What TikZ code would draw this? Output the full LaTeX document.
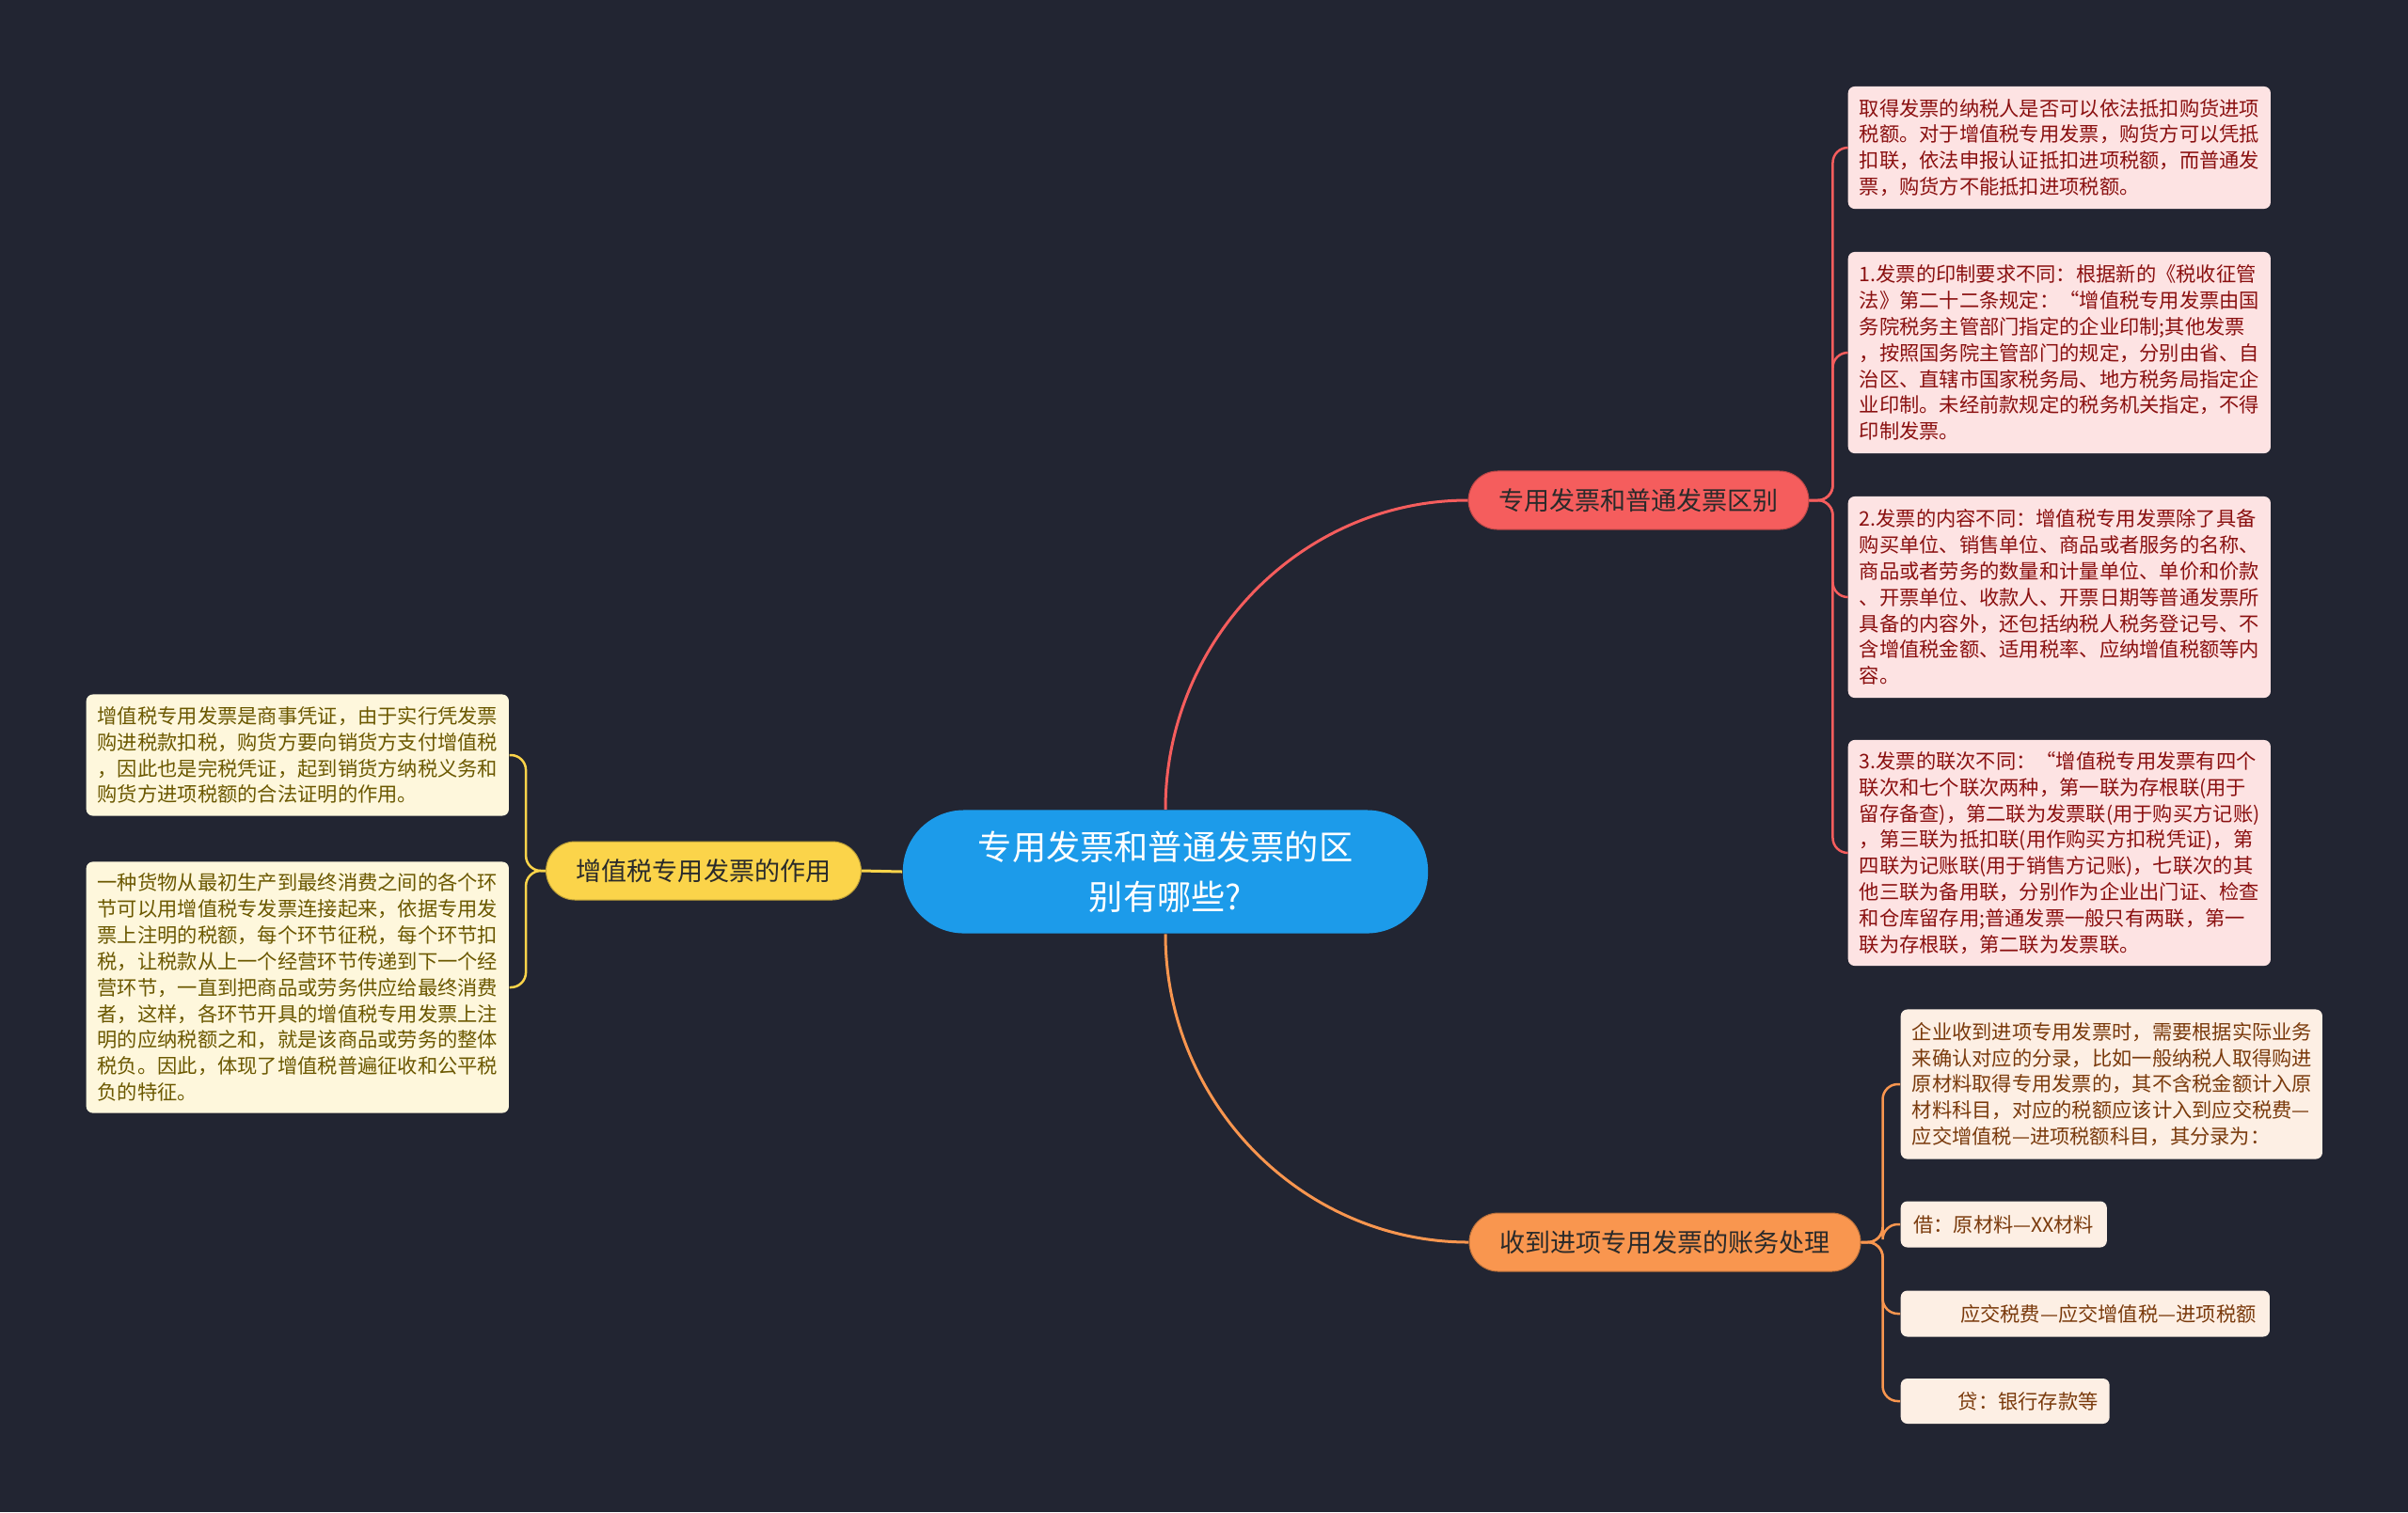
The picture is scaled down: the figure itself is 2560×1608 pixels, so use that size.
\documentclass[tikz,border=0pt]{standalone}
\usepackage{fontspec}
\setmainfont{Noto Sans CJK SC}
\definecolor{fond}{HTML}{222532}
\definecolor{bleu}{HTML}{1C9BEA}
\definecolor{rouge}{HTML}{F55D5D}
\definecolor{orange}{HTML}{F9964F}
\definecolor{jaune}{HTML}{FBD44A}
\definecolor{rosepale}{HTML}{FDE3E3}
\definecolor{orangepale}{HTML}{FDEFE4}
\definecolor{jaunepale}{HTML}{FEF7DC}
\definecolor{rougefonce}{HTML}{8A1010}
\definecolor{brun}{HTML}{7A3A0C}
\definecolor{olive}{HTML}{6B5800}
\definecolor{texte}{HTML}{2A2A2A}
\begin{document}
\begin{tikzpicture}[x=0.01cm,y=-0.01cm]
% Styles
\tikzstyle{sujet}=[fill=bleu,text=white,rounded corners=0.65cm,minimum width=5.58cm,minimum height=1.31cm,align=center,font=\fontsize{10.3pt}{15pt}\selectfont]
\tikzstyle{branche}=[rounded corners=0.31cm,minimum height=0.62cm,inner xsep=0.32cm,text=texte,line width=0.01cm,font=\fontsize{7.7pt}{9pt}\selectfont]
\tikzstyle{feuille}=[rounded corners=0.07cm,align=left,inner xsep=0.12cm,font=\fontsize{6.05pt}{7.93pt}\selectfont]
\tikzstyle{feuillerouge}=[feuille,anchor=west,fill=rosepale,text=rougefonce,text width=4.25cm]
\tikzstyle{feuillejaune}=[feuille,anchor=west,fill=jaunepale,text=olive,text width=4.25cm]
\tikzstyle{feuilleorange}=[feuille,anchor=west,fill=orangepale,text=brun]
\tikzstyle{lien}=[line width=0.03cm]
\tikzstyle{lienfin}=[line width=0.025cm,rounded corners=0.16cm]
% Fond
\useasboundingbox (0,0) rectangle (2560,1608);
\fill[fond] (0,0) rectangle (2560,1608);
% Noeuds
\node[sujet] (R) at (1239,927) {专用发票和普通发票的区\\别有哪些?};
\node[branche,fill=rouge,draw=rouge!75!black] (Ra) at (1742,532) {专用发票和普通发票区别};
\node[branche,fill=orange,draw=orange!75!black] (Rb) at (1770,1321) {收到进项专用发票的账务处理};
\node[branche,fill=jaune,draw=jaune!75!black] (Rc) at (748,926) {增值税专用发票的作用};
% Feuilles rouges
\node[feuillerouge,minimum height=1.30cm] (Raa) at (1964,157) {取得发票的纳税人是否可以依法抵扣购货进项\\税额。对于增值税专用发票，购货方可以凭抵\\扣联，依法申报认证抵扣进项税额，而普通发\\票，购货方不能抵扣进项税额。};
\node[feuillerouge,minimum height=2.14cm] (Rab) at (1964,375) {1.发票的印制要求不同：根据新的《税收征管\\法》第二十二条规定：“增值税专用发票由国\\务院税务主管部门指定的企业印制;其他发票\\，按照国务院主管部门的规定，分别由省、自\\治区、直辖市国家税务局、地方税务局指定企\\业印制。未经前款规定的税务机关指定，不得\\印制发票。};
\node[feuillerouge,minimum height=2.14cm] (Rac) at (1964,635) {2.发票的内容不同：增值税专用发票除了具备\\购买单位、销售单位、商品或者服务的名称、\\商品或者劳务的数量和计量单位、单价和价款\\、开票单位、收款人、开票日期等普通发票所\\具备的内容外，还包括纳税人税务登记号、不\\含增值税金额、适用税率、应纳增值税额等内\\容。};
\node[feuillerouge,minimum height=2.40cm] (Rad) at (1964,907) {3.发票的联次不同：“增值税专用发票有四个\\联次和七个联次两种，第一联为存根联(用于\\留存备查)，第二联为发票联(用于购买方记账)\\，第三联为抵扣联(用作购买方扣税凭证)，第\\四联为记账联(用于销售方记账)，七联次的其\\他三联为备用联，分别作为企业出门证、检查\\和仓库留存用;普通发票一般只有两联，第一\\联为存根联，第二联为发票联。};
% Feuilles oranges
\node[feuilleorange,text width=4.24cm,minimum height=1.59cm] (Rba) at (2020,1153) {企业收到进项专用发票时，需要根据实际业务\\来确认对应的分录，比如一般纳税人取得购进\\原材料取得专用发票的，其不含税金额计入原\\材料科目，对应的税额应该计入到应交税费—\\应交增值税—进项税额科目，其分录为：};
\node[feuilleorange,minimum width=2.19cm,minimum height=0.49cm] (Rbb) at (2020,1302) {借：原材料—XX材料};
\node[feuilleorange,minimum width=3.92cm,minimum height=0.49cm] (Rbc) at (2020,1397) {\hspace*{0.49cm}应交税费—应交增值税—进项税额};
\node[feuilleorange,minimum width=2.20cm,minimum height=0.48cm] (Rbd) at (2020,1490) {\hspace*{0.49cm}贷：银行存款等};
% Feuilles jaunes
\node[feuillejaune,minimum height=1.29cm] (Rca) at (91,803) {增值税专用发票是商事凭证，由于实行凭发票\\购进税款扣税，购货方要向销货方支付增值税\\，因此也是完税凭证，起到销货方纳税义务和\\购货方进项税额的合法证明的作用。};
\node[feuillejaune,minimum height=2.67cm] (Rcb) at (91,1050) {一种货物从最初生产到最终消费之间的各个环\\节可以用增值税专发票连接起来，依据专用发\\票上注明的税额，每个环节征税，每个环节扣\\税，让税款从上一个经营环节传递到下一个经\\营环节，一直到把商品或劳务供应给最终消费\\者，这样，各环节开具的增值税专用发票上注\\明的应纳税额之和，就是该商品或劳务的整体\\税负。因此，体现了增值税普遍征收和公平税\\负的特征。};
% Liens
\draw[lien,rouge] (R.north) .. controls +(0,-180) and +(-177,0) .. (Ra.west);
\draw[lien,orange] (R.south) .. controls +(0,180) and +(-177,0) .. (Rb.west);
\draw[lien,jaune] (R.west) -- (Rc.east);
\foreach \f in {Raa,Rab,Rac,Rad}
  \draw[lienfin,rouge] (Ra.east) -- ++(25,0) |- (\f.west);
\foreach \f in {Rba,Rbb,Rbc,Rbd}
  \draw[lienfin,orange] (Rb.east) -- ++(23,0) |- (\f.west);
\foreach \f in {Rca,Rcb}
  \draw[lienfin,jaune] (Rc.west) -- ++(-21,0) |- (\f.east);
\end{tikzpicture}
\end{document}
